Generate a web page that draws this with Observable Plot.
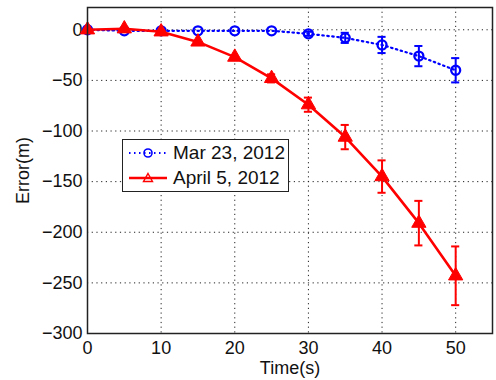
<!DOCTYPE html>
<html><head><meta charset="utf-8">
<script src="https://cdn.jsdelivr.net/npm/d3@7"></script>
<script src="https://cdn.jsdelivr.net/npm/@observablehq/plot@0.6"></script>
<style>
body{margin:0;background:#fff;font-family:"Liberation Sans",Arial,sans-serif;}
#wrap{position:relative;width:496px;height:380px;overflow:hidden;}
#legend{position:absolute;left:122px;top:139px;width:165px;height:51px;border:1.5px solid #222;background:#fff;box-sizing:content-box;}
.row{display:flex;align-items:center;height:25.5px;font-size:19px;color:#111;white-space:nowrap;}
.row svg{margin:0 5px 0 5px;flex:none;}
</style></head><body><div id="wrap"></div>
<script>
const times = [0, 5, 10, 15, 20, 25, 30, 35, 40, 45, 50];
const marValues = [0, -1, -1, -1, -1, -1, -4, -8, -15, -26, -40];
const marErrors = [0, 0, 0, 0, 0, 0, 2, 5, 8, 10, 12];
const aprValues = [0, 1, -2, -12, -27, -48, -74, -106, -145, -191, -243];
const aprErrors = [0, 0, 0, 0, 0, 4, 7, 12, 16, 22, 29];
const xTicks = [0, 10, 20, 30, 40, 50];
const yTicks = [0, -50, -100, -150, -200, -250, -300];
const seriesNames = ["Mar 23, 2012", "April 5, 2012"];

const blue = "#0000ff", red = "#ff0000";
const mar = times.map((t, i) => ({t, v: marValues[i], e: marErrors[i]}));
const apr = times.map((t, i) => ({t, v: aprValues[i], e: aprErrors[i]}));
const capW = 0.55;
const font = "'Liberation Sans', Arial, sans-serif";

const chart = Plot.plot({
  width: 496, height: 380,
  marginLeft: 87, marginRight: 4, marginTop: 7, marginBottom: 47,
  style: {fontSize: "18px", fontFamily: font, color: "#111", background: "#fff"},
  x: {domain: [0, 55]},
  y: {domain: [-300, 22]},
  marks: [
    Plot.ruleX(xTicks, {stroke: "#222", strokeWidth: 1, strokeDasharray: "1.2,3.5"}),
    Plot.ruleY(yTicks, {stroke: "#222", strokeWidth: 1, strokeDasharray: "1.2,3.5"}),
    Plot.axisX({ticks: xTicks, tickSize: 0, tickPadding: 8, fontSize: 18, label: "Time(s)", labelAnchor: "center", labelArrow: "none", labelOffset: 40}),
    Plot.axisY({ticks: yTicks, tickSize: 0, tickPadding: 5, fontSize: 18, label: "Error(m)", labelAnchor: "center", labelArrow: "none", labelOffset: 71}),
    // blue series
    Plot.line(mar, {x: "t", y: "v", stroke: blue, strokeWidth: 2.2, strokeDasharray: "1.5,3.5"}),
    Plot.ruleX(mar.filter(d => d.e > 0), {x: "t", y1: d => d.v - d.e, y2: d => d.v + d.e, stroke: blue, strokeWidth: 2}),
    Plot.ruleY(mar.filter(d => d.e > 0), {y: d => d.v - d.e, x1: d => d.t - capW, x2: d => d.t + capW, stroke: blue, strokeWidth: 2}),
    Plot.ruleY(mar.filter(d => d.e > 0), {y: d => d.v + d.e, x1: d => d.t - capW, x2: d => d.t + capW, stroke: blue, strokeWidth: 2}),
    Plot.dot(mar, {x: "t", y: "v", r: 4.5, stroke: blue, strokeWidth: 2.3, fill: "none"}),
    // red series
    Plot.line(apr, {x: "t", y: "v", stroke: red, strokeWidth: 2.6}),
    Plot.ruleX(apr.filter(d => d.e > 0), {x: "t", y1: d => d.v - d.e, y2: d => d.v + d.e, stroke: red, strokeWidth: 2}),
    Plot.ruleY(apr.filter(d => d.e > 0), {y: d => d.v - d.e, x1: d => d.t - capW, x2: d => d.t + capW, stroke: red, strokeWidth: 2}),
    Plot.ruleY(apr.filter(d => d.e > 0), {y: d => d.v + d.e, x1: d => d.t - capW, x2: d => d.t + capW, stroke: red, strokeWidth: 2}),
    Plot.dot(apr, {x: "t", y: "v", r: 5.3, symbol: "triangle", fill: red, stroke: red, strokeWidth: 1}),
    Plot.frame({stroke: "#222", strokeWidth: 1.5})
  ]
});
const wrap = document.getElementById("wrap");
wrap.appendChild(chart);

const legend = document.createElement("div");
legend.id = "legend";
legend.innerHTML = `
<div class="row"><svg width="40" height="14"><line x1="1" y1="7" x2="39" y2="7" stroke="${blue}" stroke-width="2" stroke-dasharray="1.5,3.5"/><circle cx="20" cy="7" r="4" fill="none" stroke="${blue}" stroke-width="1.6"/></svg><span>${seriesNames[0]}</span></div>
<div class="row"><svg width="40" height="14"><line x1="1" y1="7" x2="39" y2="7" stroke="${red}" stroke-width="2.6"/><path d="M20,2.5 L24.5,10.5 L15.5,10.5 Z" fill="none" stroke="${red}" stroke-width="1.4"/></svg><span>${seriesNames[1]}</span></div>`;
wrap.appendChild(legend);
</script></body></html>
